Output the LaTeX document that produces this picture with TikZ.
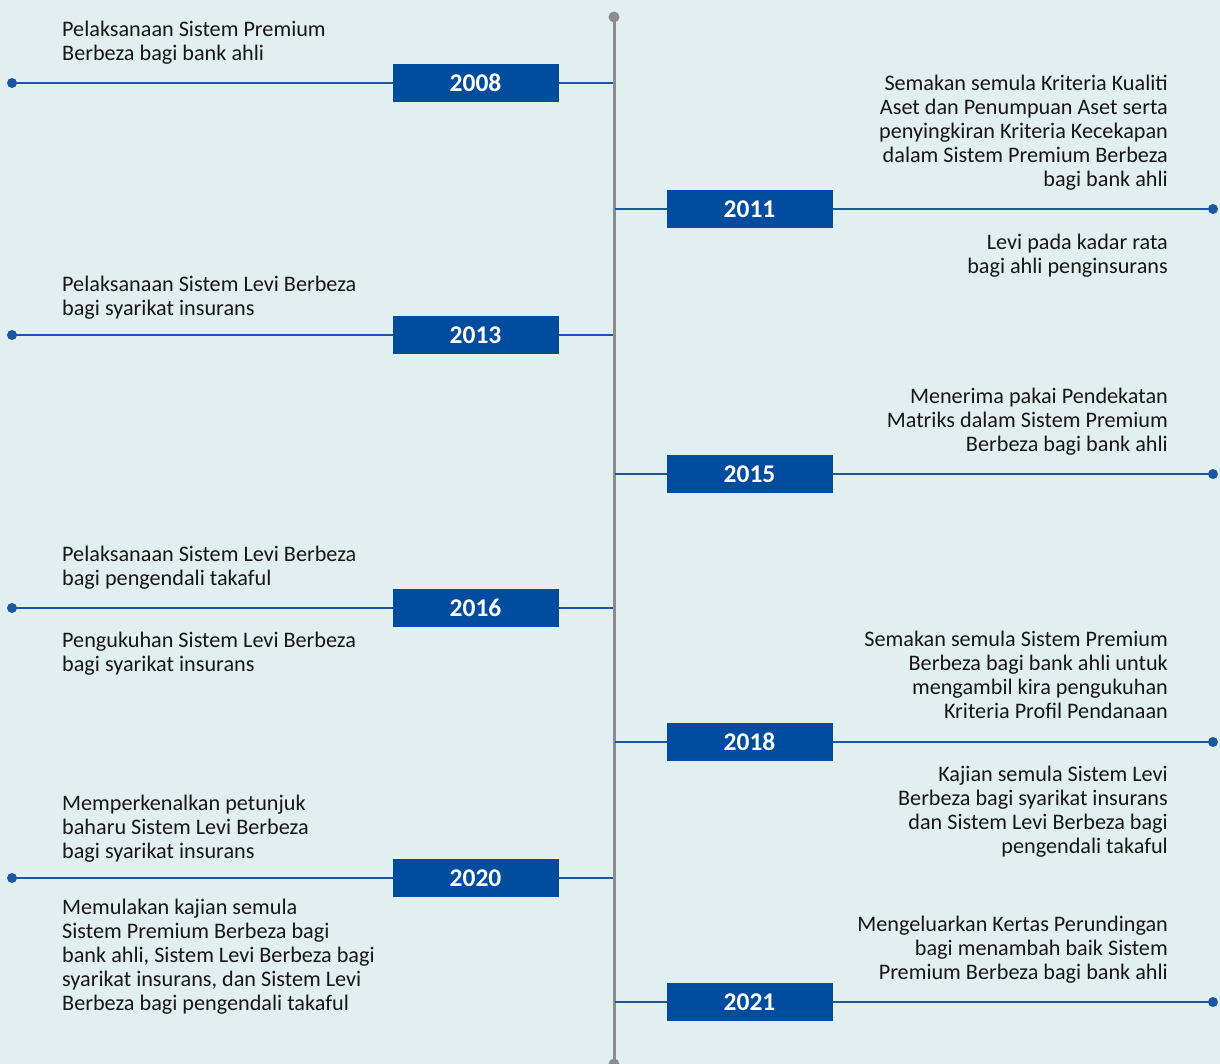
\documentclass[tikz,border=0pt]{standalone}
\usepackage{fontspec}
\setmainfont{Carlito}
\definecolor{bg}{HTML}{E2EFF0}
\definecolor{boxblue}{HTML}{004C9E}
\definecolor{lineblue}{HTML}{1A56A2}
\definecolor{axisgray}{HTML}{8A8C8F}
\definecolor{txt}{HTML}{161616}
\begin{document}
\begin{tikzpicture}[x=1pt,y=-1pt,
  yearbox/.style={fill=boxblue,text=white,minimum width=166pt,minimum height=38pt,inner sep=0pt,font=\fontsize{25.5}{28}\selectfont\bfseries},
  conn/.style={draw=lineblue,line width=2.6pt},
  enddot/.style={circle,fill=lineblue,minimum size=10pt,inner sep=0pt},
  ltext/.style={anchor=north west,align=left,inner sep=0pt,text=txt,font=\fontsize{22.2}{24}\selectfont},
  rtext/.style={anchor=north east,align=right,inner sep=0pt,text=txt,font=\fontsize{22.2}{24}\selectfont}]
\fill[bg] (0,0) rectangle (1220,1064);
\useasboundingbox (0,0) rectangle (1220,1064);
% axis
\node[circle,fill=axisgray,minimum size=11pt,inner sep=0pt] (atop) at (614,17) {};
\node[circle,fill=axisgray,minimum size=11pt,inner sep=0pt] (abot) at (614,1064) {};
\draw[draw=axisgray,line width=3pt] (atop.center) -- (abot.center);
% left entries
\foreach \yr/\yy in {2008/83,2013/335,2016/608,2020/878}{
  \node[enddot] (d\yr) at (12,\yy) {};
  \coordinate (a\yr) at (613,\yy);
  \draw[conn] (d\yr.center) -- (a\yr);
  \node[yearbox] (y\yr) at (475.5,\yy) {\yr};
}
% right entries
\foreach \yr/\yy in {2011/209,2015/474,2018/742,2021/1002}{
  \node[enddot] (d\yr) at (1213,\yy) {};
  \coordinate (a\yr) at (615,\yy);
  \draw[conn] (a\yr) -- (d\yr.center);
  \node[yearbox] (y\yr) at (749.5,\yy) {\yr};
}
% left texts
\node[ltext] (t1) at (62,21) {Pelaksanaan Sistem Premium\\Berbeza bagi bank ahli};
\node[ltext] (t2) at (62,276) {Pelaksanaan Sistem Levi Berbeza\\bagi syarikat insurans};
\node[ltext] (t3) at (62,546) {Pelaksanaan Sistem Levi Berbeza\\bagi pengendali takaful};
\node[ltext] (t4) at (62,632) {Pengukuhan Sistem Levi Berbeza\\bagi syarikat insurans};
\node[ltext] (t5) at (62,795) {Memperkenalkan petunjuk\\baharu Sistem Levi Berbeza\\bagi syarikat insurans};
\node[ltext] (t6) at (62,899) {Memulakan kajian semula\\Sistem Premium Berbeza bagi\\bank ahli, Sistem Levi Berbeza bagi\\syarikat insurans, dan Sistem Levi\\Berbeza bagi pengendali takaful};
% right texts
\node[rtext] (r1) at (1168,75) {Semakan semula Kriteria Kualiti\\Aset dan Penumpuan Aset serta\\penyingkiran Kriteria Kecekapan\\dalam Sistem Premium Berbeza\\bagi bank ahli};
\node[rtext] (r2) at (1168,234) {Levi pada kadar rata\\bagi ahli penginsurans};
\node[rtext] (r3) at (1168,388) {Menerima pakai Pendekatan\\Matriks dalam Sistem Premium\\Berbeza bagi bank ahli};
\node[rtext] (r4) at (1168,631) {Semakan semula Sistem Premium\\Berbeza bagi bank ahli untuk\\mengambil kira pengukuhan\\Kriteria Profil Pendanaan};
\node[rtext] (r5) at (1168,766) {Kajian semula Sistem Levi\\Berbeza bagi syarikat insurans\\dan Sistem Levi Berbeza bagi\\pengendali takaful};
\node[rtext] (r6) at (1168,916) {Mengeluarkan Kertas Perundingan\\bagi menambah baik Sistem\\Premium Berbeza bagi bank ahli};
\end{tikzpicture}
\end{document}
